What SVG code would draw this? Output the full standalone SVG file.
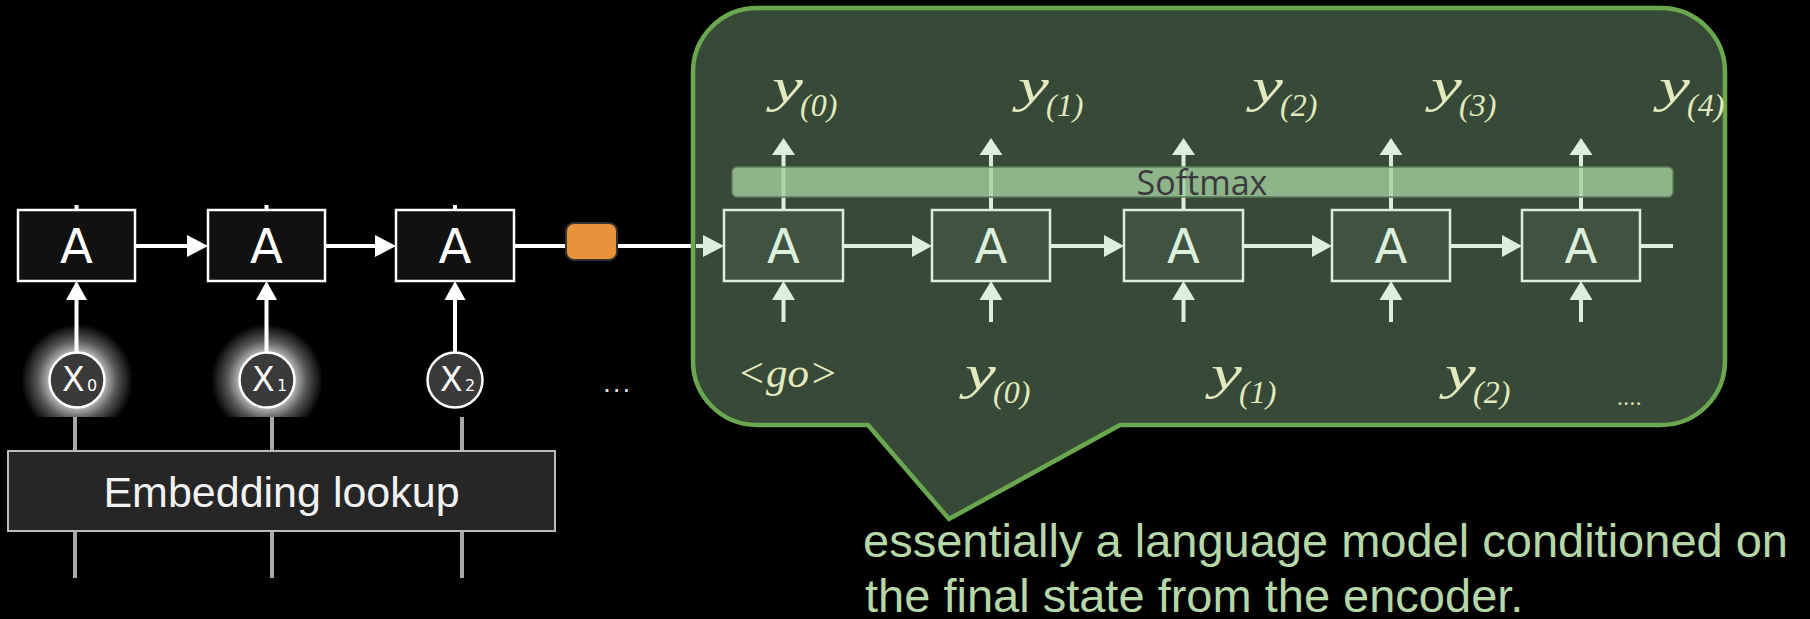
<svg xmlns="http://www.w3.org/2000/svg" width="1810" height="619" viewBox="0 0 1810 619">
<defs>
<style>
.encbox{fill:#111111;stroke:#ffffff;stroke-width:2.5}
.encA{font-family:"DejaVu Sans",sans-serif;font-size:48px;fill:#ffffff;text-anchor:middle}
.wl{stroke:#ffffff;stroke-width:4;fill:none}
.wh{fill:#ffffff}
.gl{stroke:#a8a8a8;stroke-width:4}
.circ{fill:#3a3a3a;stroke:#ffffff;stroke-width:2.5}
.cx{font-family:"DejaVu Sans",sans-serif;font-size:33px;fill:#ffffff}
.cs{font-family:"DejaVu Sans",sans-serif;font-size:16px;fill:#ffffff}
.decbox{fill:#3f5340;stroke:#dcefdc;stroke-width:2.5}
.decA{font-family:"DejaVu Sans",sans-serif;font-size:48px;fill:#dcefdc;text-anchor:middle}
.dl{stroke:#dcefdc;stroke-width:4;fill:none}
.dh{fill:#dcefdc}
.lbl{font-family:"Liberation Serif",serif;font-style:italic;font-size:48px;fill:#e2eabd}
.sub{font-family:"Liberation Serif",serif;font-style:italic;font-size:32px;fill:#e2eabd}
.cap{font-family:"Liberation Sans",Arial,sans-serif;font-size:47px;fill:#b6d7a8}
</style>
<radialGradient id="glow" cx="50%" cy="50%" r="50%">
<stop offset="0.45" stop-color="#ffffff" stop-opacity="0.8"/>
<stop offset="0.7" stop-color="#ffffff" stop-opacity="0.35"/>
<stop offset="1" stop-color="#ffffff" stop-opacity="0"/>
</radialGradient>
<radialGradient id="glow2" cx="50%" cy="0%" r="50%">
<stop offset="0" stop-color="#ffffff" stop-opacity="0.55"/>
<stop offset="1" stop-color="#ffffff" stop-opacity="0"/>
</radialGradient>
<clipPath id="glowclip"><rect x="0" y="300" width="600" height="117"/></clipPath>
<clipPath id="glowclip2"><rect x="1500" y="138" width="200" height="40"/></clipPath>
</defs>
<rect width="1810" height="619" fill="#000000"/>

<g id="connectors-encoder">
<line class="gl" x1="75" y1="417" x2="75" y2="578"/>
<line class="gl" x1="272" y1="417" x2="272" y2="578"/>
<line class="gl" x1="462" y1="417" x2="462" y2="578"/>
<line class="wl" x1="76.5" y1="352" x2="76.5" y2="298"/>
<polygon class="wh" points="76.5,281 66,300 87,300"/>
<line class="wl" x1="266.5" y1="352" x2="266.5" y2="298"/>
<polygon class="wh" points="266.5,281 256,300 277,300"/>
<line class="wl" x1="455" y1="352" x2="455" y2="298"/>
<polygon class="wh" points="455,281 444.5,300 465.5,300"/>
<line class="wl" x1="135" y1="246" x2="189" y2="246"/>
<polygon class="wh" points="208,246 187,235 187,257"/>
<line class="wl" x1="325" y1="246" x2="377" y2="246"/>
<polygon class="wh" points="396,246 375,235 375,257"/>
<line class="wl" x1="514" y1="246" x2="566" y2="246"/>
<line class="wl" x1="617" y1="246" x2="694" y2="246"/>
<line class="wl" x1="76.5" y1="205" x2="76.5" y2="210"/>
<line class="wl" x1="266.5" y1="205" x2="266.5" y2="210"/>
<line class="wl" x1="455" y1="205" x2="455" y2="210"/>
</g>

<g id="embedding">
<rect x="8" y="451" width="547" height="80" fill="#262626" stroke="#bbbbbb" stroke-width="2"/>
<text x="281.5" y="507" font-family="Liberation Sans, Arial, sans-serif" font-size="43" fill="#f2f2f2" text-anchor="middle">Embedding lookup</text>
</g>

<g id="x0">
<circle cx="77" cy="380" r="56" fill="url(#glow)" clip-path="url(#glowclip)"/>
<circle class="circ" cx="77" cy="380" r="27.5"/>
<text class="cx" x="62" y="391">X</text><text class="cs" x="87" y="391">0</text>
</g>
<g id="x1">
<circle cx="267" cy="380" r="56" fill="url(#glow)" clip-path="url(#glowclip)"/>
<circle class="circ" cx="267" cy="380" r="27.5"/>
<text class="cx" x="252" y="391">X</text><text class="cs" x="277" y="391">1</text>
</g>
<g id="x2">
<circle class="circ" cx="455" cy="380" r="27.5"/>
<text class="cx" x="440" y="391">X</text><text class="cs" x="465" y="391">2</text>
</g>

<g id="enc-a0"><rect class="encbox" x="18" y="210" width="117" height="71"/><text class="encA" x="76.5" y="263">A</text></g>
<g id="enc-a1"><rect class="encbox" x="208" y="210" width="117" height="71"/><text class="encA" x="266.5" y="263">A</text></g>
<g id="enc-a2"><rect class="encbox" x="396" y="210" width="118" height="71"/><text class="encA" x="455" y="263">A</text></g>

<g id="state">
<rect x="566" y="223" width="51" height="37" rx="8" fill="#e8923a" stroke="#333333" stroke-width="2"/>
</g>

<g id="ellipsis">
<text x="603" y="392" font-family="Liberation Sans, Arial, sans-serif" font-size="28" letter-spacing="2" fill="#dddddd">...</text>
</g>

<g id="callout">
<path d="M757 8 H1661 A64 64 0 0 1 1725 72 V361 A64 64 0 0 1 1661 425 H1120 L949 519 L868 425 H757 A64 64 0 0 1 693 361 V72 A64 64 0 0 1 757 8 Z" fill="#374a37" stroke="#6aa84f" stroke-width="4.5"/>
</g>

<g id="connectors-decoder">
<line class="dl" x1="696" y1="246" x2="705" y2="246"/>
<polygon class="dh" points="724,246 703,235 703,257"/>
<line class="dl" x1="843" y1="246" x2="914" y2="246"/>
<polygon class="dh" points="932,246 912,235 912,257"/>
<line class="dl" x1="1050" y1="246" x2="1106" y2="246"/>
<polygon class="dh" points="1124,246 1104,235 1104,257"/>
<line class="dl" x1="1243" y1="246" x2="1314" y2="246"/>
<polygon class="dh" points="1332,246 1312,235 1312,257"/>
<line class="dl" x1="1450" y1="246" x2="1504" y2="246"/>
<polygon class="dh" points="1522,246 1502,235 1502,257"/>
<line class="dl" x1="1640" y1="246" x2="1673" y2="246"/>
<line class="dl" x1="783.5" y1="322" x2="783.5" y2="298"/><polygon class="dh" points="783.5,281 772,300 795,300"/>
<line class="dl" x1="991" y1="322" x2="991" y2="298"/><polygon class="dh" points="991,281 979.5,300 1002.5,300"/>
<line class="dl" x1="1183.5" y1="322" x2="1183.5" y2="298"/><polygon class="dh" points="1183.5,281 1172,300 1195,300"/>
<line class="dl" x1="1391" y1="322" x2="1391" y2="298"/><polygon class="dh" points="1391,281 1379.5,300 1402.5,300"/>
<line class="dl" x1="1581" y1="322" x2="1581" y2="298"/><polygon class="dh" points="1581,281 1569.5,300 1592.5,300"/>
<ellipse cx="1581" cy="138" rx="58" ry="26" fill="url(#glow2)" clip-path="url(#glowclip2)"/>
<line class="dl" x1="783.5" y1="210" x2="783.5" y2="153"/><polygon class="dh" points="783.5,138 772,155 795,155"/>
<line class="dl" x1="991" y1="210" x2="991" y2="153"/><polygon class="dh" points="991,138 979.5,155 1002.5,155"/>
<line class="dl" x1="1183.5" y1="210" x2="1183.5" y2="153"/><polygon class="dh" points="1183.5,138 1172,155 1195,155"/>
<line class="dl" x1="1391" y1="210" x2="1391" y2="153"/><polygon class="dh" points="1391,138 1379.5,155 1402.5,155"/>
<line class="dl" x1="1581" y1="210" x2="1581" y2="153"/><polygon class="dh" points="1581,138 1569.5,155 1592.5,155"/>
</g>

<g id="softmax">
<rect x="732" y="167" width="941" height="30" rx="5" fill="#a4d09f" fill-opacity="0.8" stroke="#5f7d5c" stroke-width="1.5"/>
<text x="1202" y="195" font-family="Open Sans, Noto Sans, sans-serif" font-size="34" fill="#3a3a3a" text-anchor="middle">Softmax</text>
</g>

<g id="dec-a0"><rect class="decbox" x="724" y="210" width="119" height="71"/><text class="decA" x="783.5" y="263">A</text></g>
<g id="dec-a1"><rect class="decbox" x="932" y="210" width="118" height="71"/><text class="decA" x="991" y="263">A</text></g>
<g id="dec-a2"><rect class="decbox" x="1124" y="210" width="119" height="71"/><text class="decA" x="1183.5" y="263">A</text></g>
<g id="dec-a3"><rect class="decbox" x="1332" y="210" width="118" height="71"/><text class="decA" x="1391" y="263">A</text></g>
<g id="dec-a4"><rect class="decbox" x="1522" y="210" width="118" height="71"/><text class="decA" x="1581" y="263">A</text></g>

<g id="out-labels">
<text class="lbl" transform="translate(772 102) scale(1.45 1)">y</text><text class="sub" x="800" y="116">(0)</text>
<text class="lbl" transform="translate(1018 102) scale(1.45 1)">y</text><text class="sub" x="1046" y="116">(1)</text>
<text class="lbl" transform="translate(1252 102) scale(1.45 1)">y</text><text class="sub" x="1280" y="116">(2)</text>
<text class="lbl" transform="translate(1431 102) scale(1.45 1)">y</text><text class="sub" x="1459" y="116">(3)</text>
<text class="lbl" transform="translate(1659 102) scale(1.45 1)">y</text><text class="sub" x="1687" y="116">(4)</text>
</g>

<g id="in-labels">
<text class="lbl" x="737" y="387" style="font-size:43px">&lt;go&gt;</text>
<text class="lbl" transform="translate(965 389) scale(1.45 1)">y</text><text class="sub" x="993" y="403">(0)</text>
<text class="lbl" transform="translate(1211 389) scale(1.45 1)">y</text><text class="sub" x="1239" y="403">(1)</text>
<text class="lbl" transform="translate(1445 389) scale(1.45 1)">y</text><text class="sub" x="1473" y="403">(2)</text>
<text class="lbl" x="1617" y="405" style="font-size:23px;font-style:normal;letter-spacing:0.5px">....</text>
</g>

<g id="caption">
<text class="cap" x="863" y="557">essentially a language model conditioned on</text>
<text class="cap" x="865" y="612">the final state from the encoder.</text>
</g>
</svg>
